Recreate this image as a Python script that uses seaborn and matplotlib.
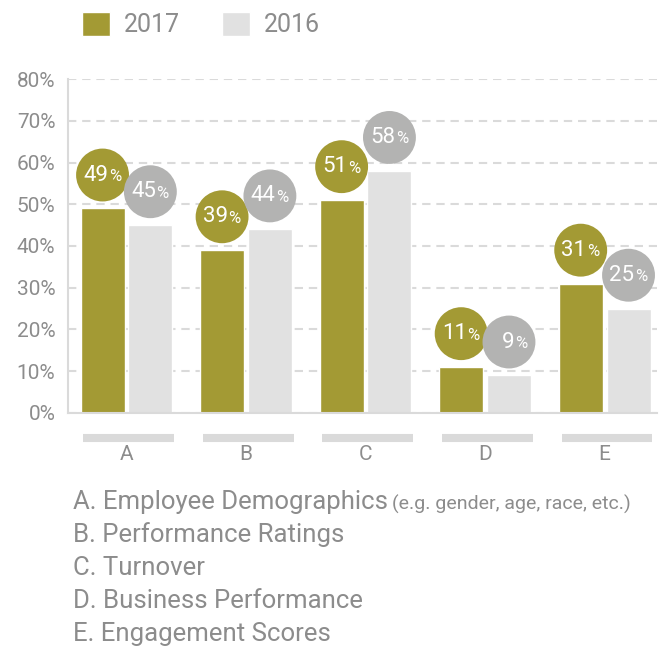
import numpy as np
import pandas as pd
import matplotlib.pyplot as plt
import seaborn as sns
from matplotlib.patches import Patch

categories = ['A', 'B', 'C', 'D', 'E']
years = ['2017', '2016']
values_2017 = [49, 39, 51, 11, 31]
values_2016 = [45, 44, 58, 9, 25]
descriptions = ['A. Employee Demographics', 'B. Performance Ratings', 'C. Turnover',
                'D. Business Performance', 'E. Engagement Scores']
desc_note = '(e.g. gender, age, race, etc.)'

olive = '#A39A34'
light = '#E1E1E1'
bubble_gray = '#B3B3B2'
text_gray = '#8C8C8C'
line_gray = '#DADADA'

df = pd.DataFrame({
    'category': categories * 2,
    'year': ['2017'] * len(categories) + ['2016'] * len(categories),
    'value': values_2017 + values_2016,
})

sns.set_theme(style='white')
plt.rcParams['font.family'] = ['Roboto', 'DejaVu Sans']

fig = plt.figure(figsize=(6.72, 6.46), dpi=100)
ax = fig.add_axes([0.101, 0.3607, 0.877, 0.517])
sns.barplot(data=df, x='category', y='value', hue='year', hue_order=years,
            palette=[olive, light], width=0.8, gap=0.08, saturation=1,
            legend=False, ax=ax)

# bubbles with value labels
bubble_colors = [olive] * len(categories) + [bubble_gray] * len(categories)
for p, c in zip(ax.patches, bubble_colors):
    cx = p.get_x() + p.get_width() / 2
    h = p.get_height()
    cy = h + 8
    ax.scatter([cx], [cy], s=1450, color=c, edgecolor='none', zorder=4, clip_on=False)
    ax.annotate(f'{h:.0f}', (cx, cy), xytext=(4, 0), textcoords='offset points',
                ha='right', va='center', color='white', fontsize=16, zorder=5)
    ax.annotate('%', (cx, cy), xytext=(4.5, -1), textcoords='offset points',
                ha='left', va='center', color='white', fontsize=12, zorder=5)

ax.set_ylim(0, 80)
ax.set_xlim(-0.49, 4.44)
ax.set_yticks(range(0, 81, 10))
ax.set_yticklabels([f'{v}%' for v in range(0, 81, 10)])
ax.set_xlabel('')
ax.set_ylabel('')
ax.tick_params(axis='y', length=0, labelsize=15, labelcolor=text_gray, pad=9)
ax.tick_params(axis='x', length=0, labelsize=15, labelcolor=text_gray, pad=23)
ax.yaxis.grid(True, linestyle=(0, (4, 2.8)), color=line_gray, linewidth=1.5)
ax.set_axisbelow(True)
for s in ['top', 'right']:
    ax.spines[s].set_visible(False)
for s in ['left', 'bottom']:
    ax.spines[s].set_color(line_gray)
    ax.spines[s].set_linewidth(1.5)

# gray bars under each category
for i in range(len(categories)):
    ax.hlines(-6, i - 0.36, i + 0.40, color=line_gray, linewidth=5.8, clip_on=False)

handles = [Patch(facecolor=olive), Patch(facecolor=light)]
fig.legend(handles, years, loc='upper left', bbox_to_anchor=(0.088, 1.017), ncol=2,
           frameon=False, fontsize=18, handlelength=1.15, handleheight=1.15,
           handletextpad=0.55, columnspacing=1.65, labelcolor=text_gray)

baselines = [509, 542, 575, 608, 641]
for d, yb in zip(descriptions, baselines):
    t = fig.text(73 / 672, 1 - yb / 646, d, fontsize=18.5, color=text_gray, va='baseline')
    if d.startswith('A.'):
        ax.annotate(desc_note, xy=(1, 0), xycoords=t, xytext=(3, 0),
                    textcoords='offset points', fontsize=14, color=text_gray,
                    va='bottom', ha='left')

fig.savefig('out.png', dpi=100)
